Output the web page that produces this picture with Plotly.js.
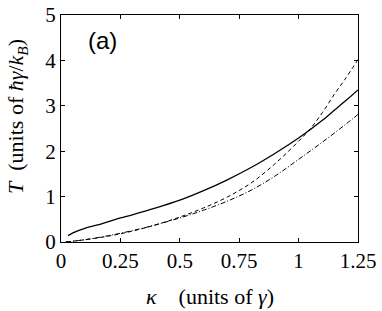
<!DOCTYPE html>
<html>
<head>
<meta charset="utf-8">
<script src="https://cdn.plot.ly/plotly-3.0.1.min.js"></script>
<style>html,body{margin:0;padding:0;background:#fff;}#chart{width:382px;height:311px;}</style>
</head>
<body>
<div id="chart"></div>
<script>
// Solid curve
const kappaSolid = [0.03,0.05,0.1,0.15,0.2,0.25,0.3,0.4,0.5,0.6,0.7,0.8,0.9,1.0,1.05,1.1,1.15,1.2,1.25];
const TSolid     = [0.14,0.2,0.3,0.37,0.45,0.53,0.6,0.75,0.92,1.13,1.37,1.64,1.95,2.29,2.48,2.68,2.9,3.12,3.35];
// Dashed curve
const kappaDash = [0.02,0.1,0.2,0.3,0.4,0.5,0.6,0.7,0.8,0.9,1.0,1.05,1.1,1.15,1.2,1.25];
const TDash     = [0.0,0.05,0.13,0.24,0.38,0.55,0.75,0.99,1.3,1.72,2.22,2.5,2.85,3.25,3.62,4.02];
// Dash-dot curve
const kappaDashDot = [0.02,0.1,0.2,0.3,0.4,0.5,0.6,0.7,0.8,0.9,1.0,1.1,1.2,1.25];
const TDashDot     = [0.0,0.05,0.14,0.25,0.38,0.53,0.7,0.9,1.14,1.45,1.82,2.2,2.6,2.81];
// Ticks
const xTicks = [0,0.25,0.5,0.75,1,1.25];
const xTickLabels = ['0','0.25','0.5','0.75','1','1.25'];
const yTicks = [0,1,2,3,4,5];
const yTickLabels = ['0','1','2','3','4','5'];

const traces = [
  {x: kappaSolid, y: TSolid, mode: 'lines', line: {color: '#000', width: 1.3, shape: 'spline'}},
  {x: kappaDash, y: TDash, mode: 'lines', line: {color: '#000', width: 1, dash: '4px,3px', shape: 'spline'}},
  {x: kappaDashDot, y: TDashDot, mode: 'lines', line: {color: '#000', width: 1, dash: '5px,2px,1px,2px', shape: 'spline'}}
];

const serif = 'Liberation Serif';
const tickFont = {family: serif, size: 21, color: '#000'};
const nb = '\u00A0';

const layout = {
  width: 382, height: 311,
  margin: {l: 61, r: 24, t: 15, b: 69},
  paper_bgcolor: '#fff', plot_bgcolor: '#fff',
  showlegend: false,
  xaxis: {
    range: [0, 1.25], tickvals: xTicks, ticktext: xTickLabels,
    ticks: 'inside', ticklen: 4, tickcolor: '#000', tickwidth: 1,
    showline: true, linecolor: '#000', linewidth: 1, mirror: 'ticks',
    showgrid: false, zeroline: false, tickfont: tickFont, fixedrange: true
  },
  yaxis: {
    range: [0, 5], tickvals: yTicks, ticktext: yTickLabels,
    ticks: 'inside', ticklen: 4, tickcolor: '#000', tickwidth: 1,
    showline: true, linecolor: '#000', linewidth: 1, mirror: 'ticks',
    showgrid: false, zeroline: false, tickfont: tickFont, fixedrange: true
  },
  annotations: [
    {text: '(a)', xref: 'paper', yref: 'paper', x: 0.141, y: 0.888, showarrow: false,
     xanchor: 'center', yanchor: 'middle',
     font: {family: 'Liberation Sans', size: 24, color: '#000'}},
    {text: '<i>κ</i>' + nb+nb+nb+nb + '(units of <i>γ</i>)', xref: 'paper', yref: 'paper',
     x: 0.5, y: -0.239, xanchor: 'center', yanchor: 'middle', showarrow: false,
     font: {family: serif, size: 22, color: '#000'}},
    {text: '<i>T</i>' + nb+nb + '(units of <i>ħγ</i>/<i>k</i><sub><i>B</i></sub>)', xref: 'paper', yref: 'paper',
     x: -0.148, y: 0.551, xanchor: 'center', yanchor: 'middle', textangle: -90, showarrow: false,
     font: {family: serif, size: 22, color: '#000'}}
  ]
};

Plotly.newPlot('chart', traces, layout, {displayModeBar: false, staticPlot: true});
</script>
</body>
</html>
